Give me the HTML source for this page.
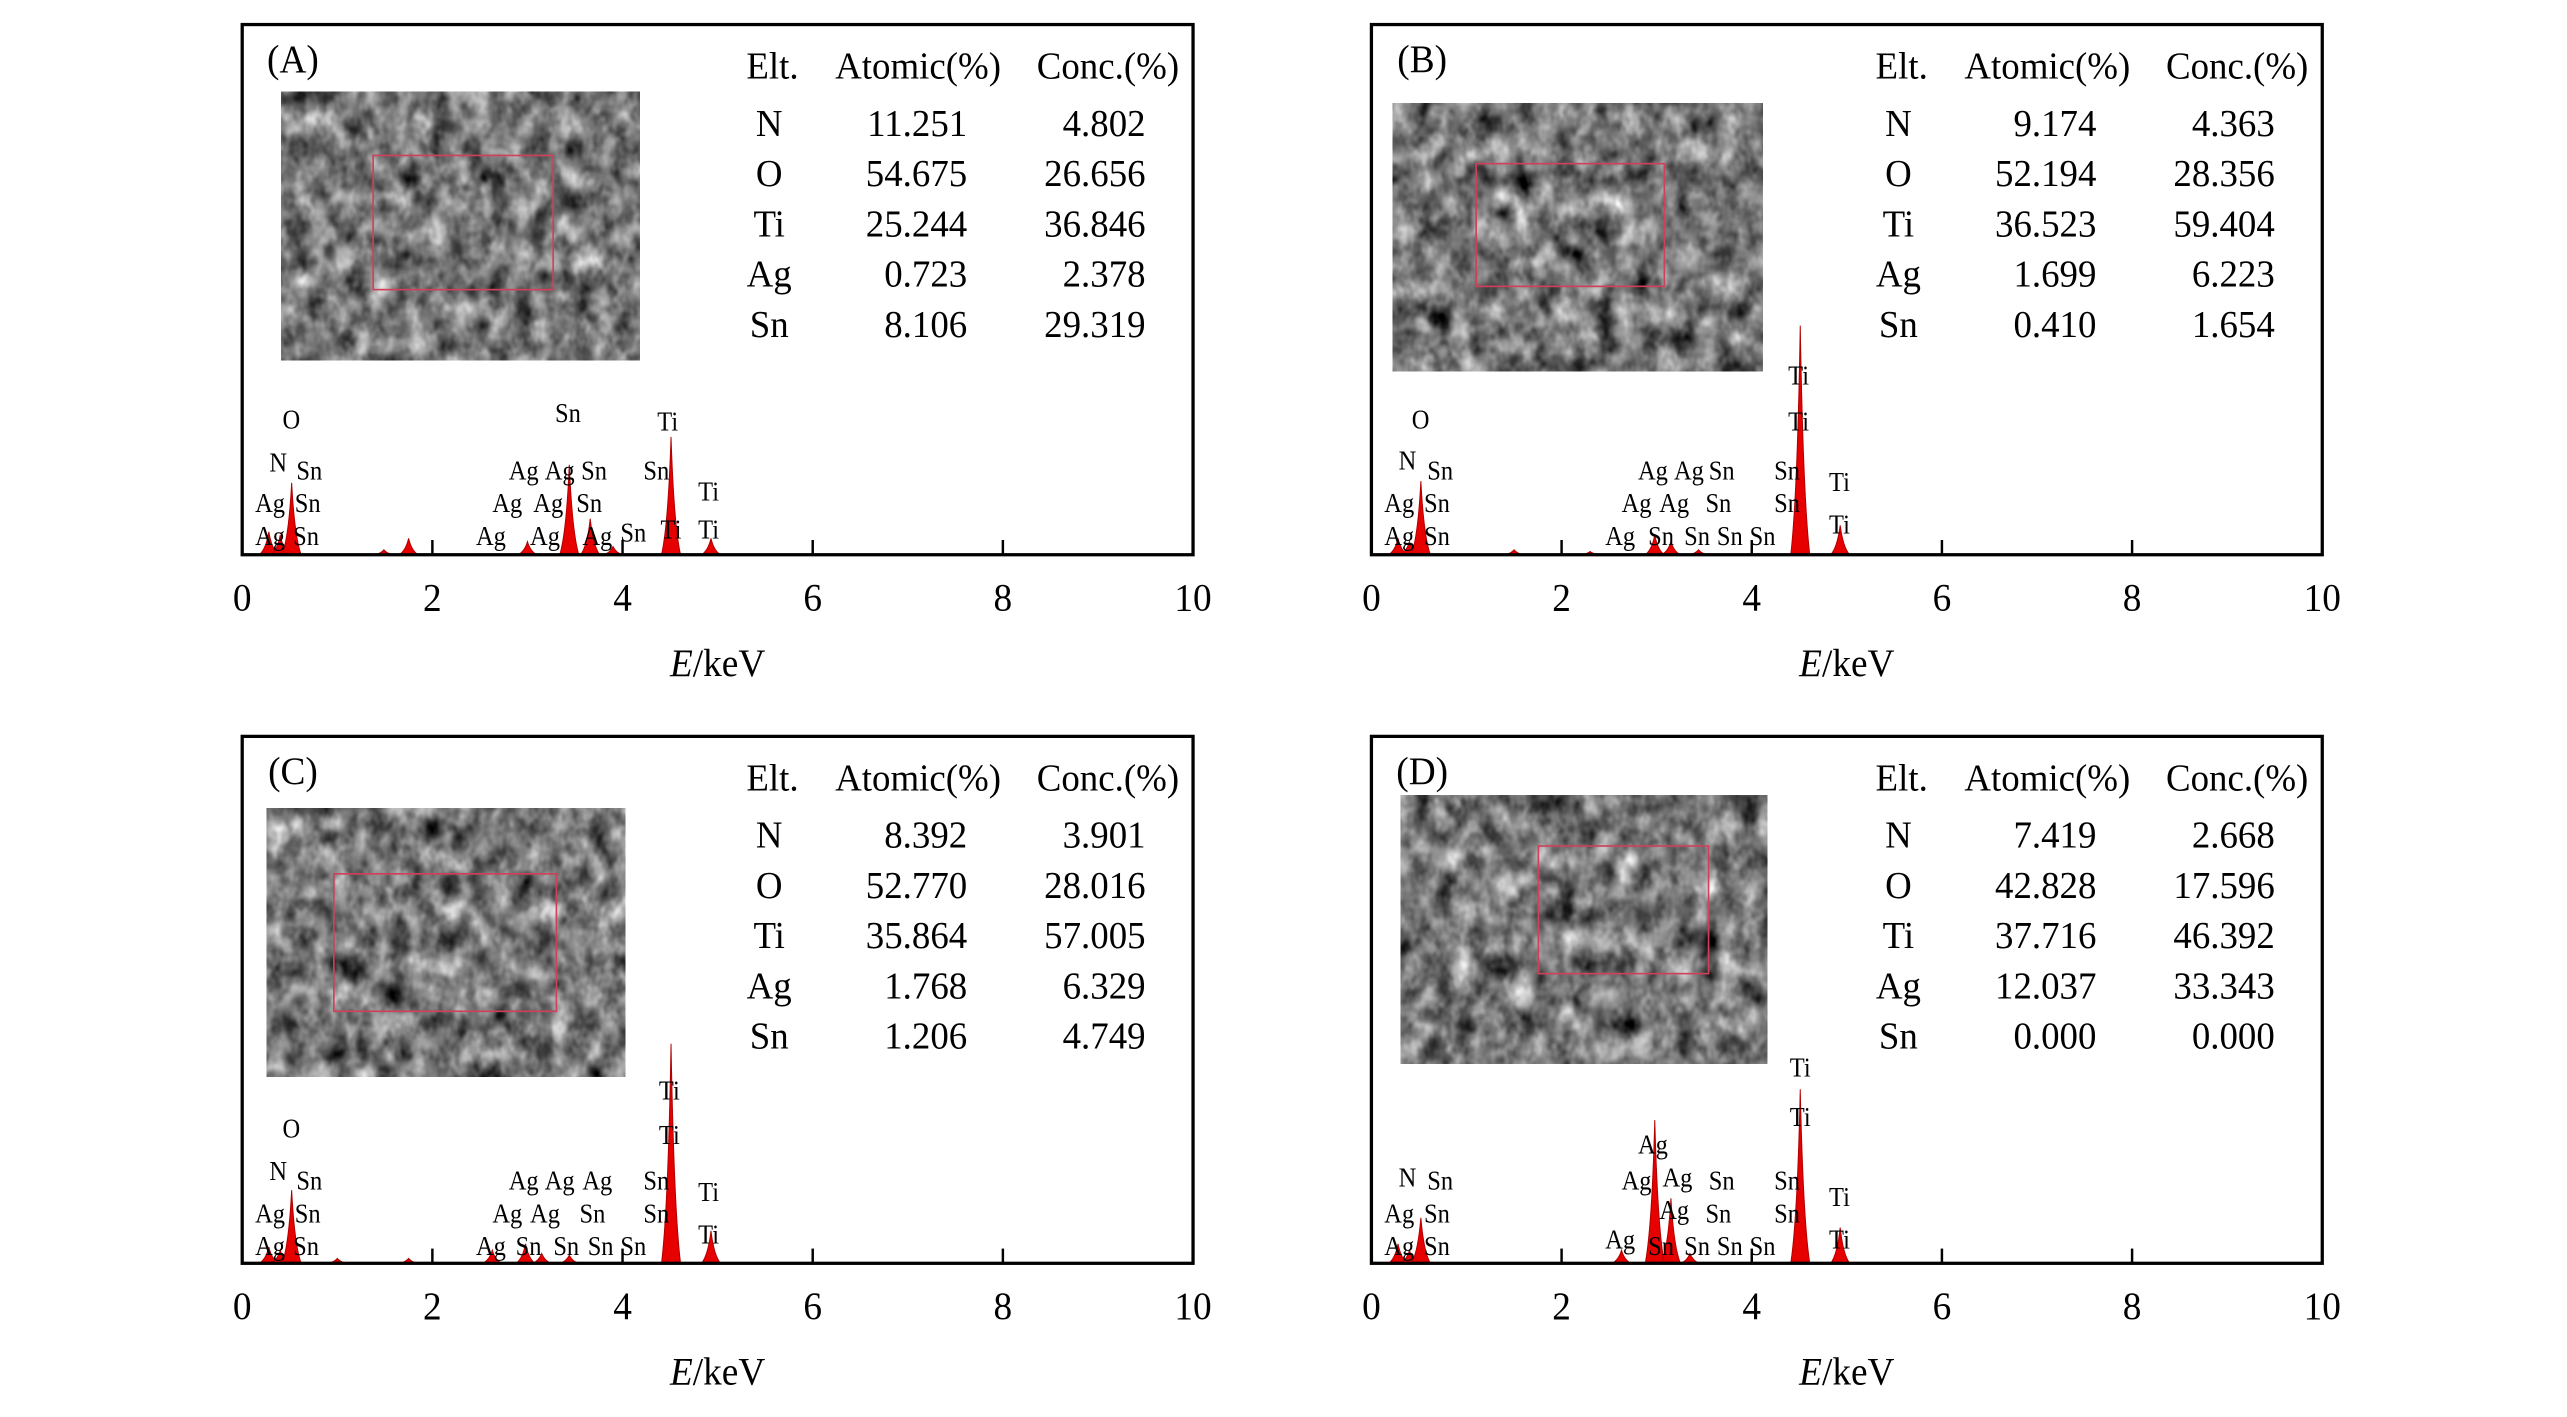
<!DOCTYPE html>
<html><head><meta charset="utf-8"><style>
html,body{margin:0;padding:0;background:#fff;}
svg{display:block;}
text{font-family:"Liberation Serif","Times New Roman",serif;fill:#000;}
</style></head><body>
<svg id="fig" width="2567" height="1417" viewBox="0 0 1556 859" preserveAspectRatio="none" xmlns="http://www.w3.org/2000/svg">
<defs>
<filter id="sem" x="0" y="0" width="100%" height="100%" color-interpolation-filters="sRGB">
<feTurbulence type="fractalNoise" baseFrequency="0.08 0.06" numOctaves="3" seed="4" result="n"/>
<feColorMatrix in="n" type="matrix" values="0.33 0.33 0.33 0 0  0.33 0.33 0.33 0 0  0.33 0.33 0.33 0 0  0 0 0 0 1" result="g"/>
<feComponentTransfer in="g">
<feFuncR type="linear" slope="1.8" intercept="-0.42"/>
<feFuncG type="linear" slope="1.8" intercept="-0.42"/>
<feFuncB type="linear" slope="1.8" intercept="-0.42"/>
</feComponentTransfer>
</filter>
</defs>
<g id="root" transform="scale(0.992)"></g>
</svg>
<script>
// ---- data ----
const panelIds = ['A','B','C','D'];
const elements = ['N','O','Ti','Ag','Sn'];
const atomicA = ['11.251','54.675','25.244','0.723','8.106'];
const concA   = ['4.802','26.656','36.846','2.378','29.319'];
const atomicB = ['9.174','52.194','36.523','1.699','0.410'];
const concB   = ['4.363','28.356','59.404','6.223','1.654'];
const atomicC = ['8.392','52.770','35.864','1.768','1.206'];
const concC   = ['3.901','28.016','57.005','6.329','4.749'];
const atomicD = ['7.419','42.828','37.716','12.037','0.000'];
const concD   = ['2.668','17.596','46.392','33.343','0.000'];
const xTicks = [0,2,4,6,8,10];
// peak energies (keV) and intensities (arb., full scale = 324)
const peakE_A = [0.28,0.40,0.52,1.49,1.75,3.0,3.44,3.66,3.9,4.51,4.93];
const peakI_A = [14,12,44,3,10,8,55,22,5,72,10];
const peakE_B = [0.28,0.40,0.52,1.5,2.3,2.98,3.15,3.44,4.51,4.93];
const peakI_B = [10,8,45,3,2,12,8,3,140,18];
const peakE_C = [0.28,0.40,0.52,1.0,1.75,2.63,2.98,3.15,3.44,4.51,4.93];
const peakI_C = [10,8,45,3,3,8,12,6,5,135,20];
const peakE_D = [0.28,0.40,0.52,2.63,2.98,3.15,3.35,4.51,4.93];
const peakI_D = [12,8,28,8,88,40,6,107,22];
const yMax = 324;

const NS='http://www.w3.org/2000/svg';
const svg=document.getElementById('root');
function mk(tag,attrs,parent){const e=document.createElementNS(NS,tag);for(const k in attrs)e.setAttribute(k,attrs[k]);(parent||svg).appendChild(e);return e;}
function txt(str,x,y,size,anchor,parent,sx){
  const t=mk('text',{transform:`translate(${x},${y}) scale(${sx||0.86},1)`,'font-size':size,'text-anchor':anchor||'middle'},parent);
  t.textContent=str;return t;
}

const panels=[
 {id:'A',x0:148,y0:15,x1:729,y1:339,atomic:atomicA,conc:concA,E:peakE_A,I:peakI_A,img:[172,56,219,164],rect:[228,95,110,82]},
 {id:'B',x0:838,y0:15,x1:1419,y1:339,atomic:atomicB,conc:concB,E:peakE_B,I:peakI_B,img:[851,63,226,164],rect:[902,100,115,75]},
 {id:'C',x0:148,y0:450,x1:729,y1:772,atomic:atomicC,conc:concC,E:peakE_C,I:peakI_C,img:[163,494,219,164],rect:[204,534,136,84]},
 {id:'D',x0:838,y0:450,x1:1419,y1:772,atomic:atomicD,conc:concD,E:peakE_D,I:peakI_D,img:[856,486,224,164],rect:[940,517,104,78]}
];
const labels={
A:[['O',178,262],['N',170,288],['Sn',189,293],['Ag',165,313],['Sn',188,313],['Ag',165,333],['Sn',187,333],['Sn',347,258],['Ti',408,263],['Ag',320,293],['Ag',342,293],['Sn',363,293],['Sn',401,293],['Ag',310,313],['Ag',335,313],['Sn',360,313],['Ti',433,306],['Ag',300,333],['Ag',333,333],['Ag',365,333],['Sn',387,331],['Ti',410,329],['Ti',433,329]],
B:[['O',868,262],['N',860,287],['Sn',880,293],['Ag',855,313],['Sn',878,313],['Ag',855,333],['Sn',878,333],['Ag',1010,293],['Ag',1032,293],['Sn',1052,293],['Ag',1000,313],['Ag',1023,313],['Sn',1050,313],['Ag',990,333],['Sn',1015,333],['Sn',1037,333],['Sn',1057,333],['Sn',1077,333],['Sn',1092,293],['Sn',1092,313],['Ti',1099,235],['Ti',1099,263],['Ti',1124,300],['Ti',1124,326]],
C:[['O',178,695],['N',170,721],['Sn',189,727],['Ag',165,747],['Sn',188,747],['Ag',165,767],['Sn',187,767],['Ag',320,727],['Ag',342,727],['Ag',365,727],['Ag',310,747],['Ag',333,747],['Sn',362,747],['Ag',300,767],['Sn',323,767],['Sn',346,767],['Sn',367,767],['Sn',387,767],['Sn',401,727],['Sn',401,747],['Ti',409,672],['Ti',409,699],['Ti',433,734],['Ti',433,760]],
D:[['N',860,725],['Sn',880,727],['Ag',855,747],['Sn',878,747],['Ag',855,767],['Sn',878,767],['Ag',1010,705],['Ag',1000,727],['Ag',1025,725],['Sn',1052,727],['Ag',1023,745],['Sn',1050,747],['Ag',990,763],['Sn',1015,767],['Sn',1037,767],['Sn',1057,767],['Sn',1077,767],['Sn',1092,727],['Sn',1092,747],['Ti',1100,658],['Ti',1100,688],['Ti',1124,737],['Ti',1124,763]]
};

panels.forEach(p=>{
  const g=mk('g',{});
  
  
  const xs=e=>p.x0+(e-0)/(10-0)*(p.x1-p.x0);
  const ys=v=>p.y1-v/yMax*(p.y1-p.y0);
  // inset SEM image
  const img=mk('g',{},g);
  
  
  const [ix,iy,iw,ih]=p.img;
  mk('rect',{x:ix,y:iy,width:iw,height:ih,fill:'#7a7a7a'},img);
  mk('rect',{x:ix,y:iy,width:iw,height:ih,fill:'#888',filter:'url(#sem)'},img);
  const r=mk('rect',{x:p.rect[0],y:p.rect[1],width:p.rect[2],height:p.rect[3],fill:'none',stroke:'#d0405a','stroke-width':1},img);
  
  
  // spectrum peaks
  const sp=mk('g',{},g);
  
  
  p.E.forEach((e,i)=>{
    const w=0.1;
    const d=`M${xs(e-w)},${p.y1} Q${xs(e-w*0.3)},${ys(p.I[i]*0.25)} ${xs(e)},${ys(p.I[i])} Q${xs(e+w*0.3)},${ys(p.I[i]*0.25)} ${xs(e+w)},${p.y1} Z`;
    const pk=mk('path',{d:d,fill:'#e60000',stroke:'#b00000','stroke-width':0.6},sp);
    
    
  });
  // frame
  const fr=mk('rect',{x:p.x0,y:p.y0,width:p.x1-p.x0,height:p.y1-p.y0,fill:'none',stroke:'#000','stroke-width':2},g);
  
  
  // ticks
  xTicks.forEach(t=>{
    if(t>0&&t<10){mk('line',{x1:xs(t),x2:xs(t),y1:p.y1,y2:p.y1-9,stroke:'#000','stroke-width':1.5},g);}
    const tl=txt(String(t),xs(t),p.y1+34,24,'middle',g,0.95);
    
    
  });
  // axis title
  const at=mk('text',{transform:`translate(${(p.x0+p.x1)/2},${p.y1+74}) scale(0.95,1)`,'font-size':24,'text-anchor':'middle'},g);
  
  
  const it=mk('tspan',{'font-style':'italic'},at);it.textContent='E';
  const rt=mk('tspan',{},at);rt.textContent='/keV';
  // panel label
  const pl=txt('('+p.id+')',p.x0+31,p.y0+29,24,'middle',g,0.95);
  
  
  // table
  const tb=mk('g',{},g);
  
  
  const ty=p.y0+33;
  txt('Elt.',p.x0+324,ty,23,'middle',tb,0.98);
  txt('Atomic(%)',p.x0+413,ty,23,'middle',tb,0.98);
  txt('Conc.(%)',p.x0+529,ty,23,'middle',tb,0.98);
  elements.forEach((el,i)=>{
    const y=p.y0+68+i*30.7;
    txt(el,p.x0+322,y,23,'middle',tb,0.98);
    txt(p.atomic[i],p.x0+443,y,23,'end',tb,0.98);
    txt(p.conc[i],p.x0+552,y,23,'end',tb,0.98);
  });
  // peak labels
  const lg=mk('g',{},g);
  
  
  labels[p.id].forEach(l=>{txt(l[0],l[1],l[2],17,'middle',lg,0.88);});
});
</script>
</body></html>
